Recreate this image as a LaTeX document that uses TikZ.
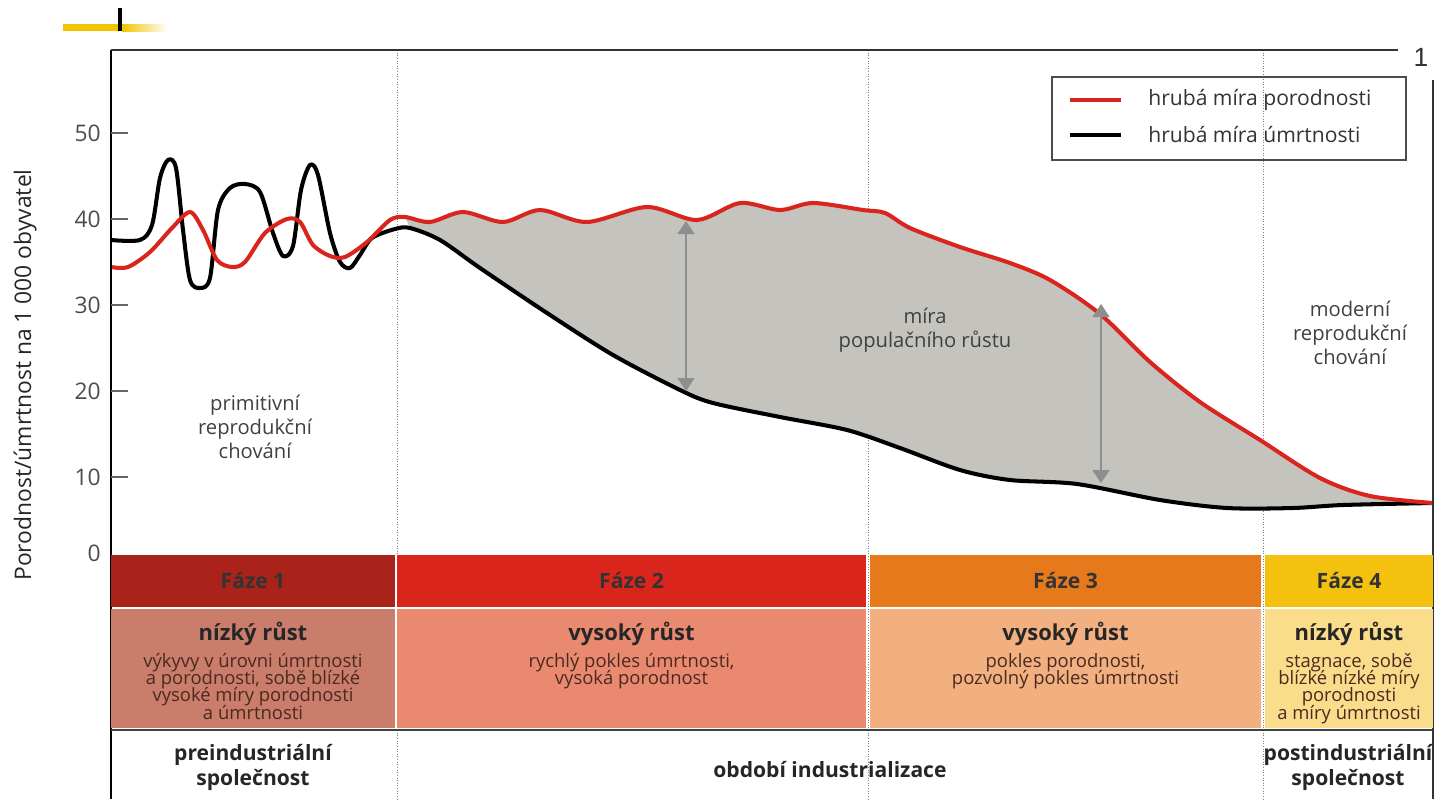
\documentclass[tikz,border=0pt]{standalone}
\usepackage{fontspec}
\setmainfont{Open Sans}
\newfontfamily\markfont{Liberation Sans}
\usepackage{xcolor}
\usetikzlibrary{arrows.meta, positioning, calc}

\definecolor{birthred}{HTML}{D9251D}
\definecolor{growthgray}{HTML}{C4C3BE}
\definecolor{arrowgray}{HTML}{8E8E8E}
\definecolor{headA}{HTML}{A9231A}
\definecolor{headB}{HTML}{DA251C}
\definecolor{headC}{HTML}{E5791C}
\definecolor{headD}{HTML}{F4C10F}
\definecolor{descA}{HTML}{C97D6A}
\definecolor{descB}{HTML}{E98A70}
\definecolor{descC}{HTML}{F2AF80}
\definecolor{descD}{HTML}{FADD8A}
\definecolor{bodytext}{HTML}{4A2A20}
\definecolor{baryellow}{HTML}{F2C300}

\newcommand\tightlines{\fontsize{10.5}{9.9}\selectfont\setlength{\lineskiplimit}{-20pt}}

\begin{document}
\begin{tikzpicture}[x=0.2mm, y=-0.2mm,
    phasehead/.style={minimum height=10.4mm, inner sep=0pt, font=\bfseries\fontsize{12}{14}\selectfont, text=black!80},
    descbox/.style={minimum height=23.8mm, inner sep=0pt},
    desctitle/.style={inner sep=0pt, font=\bfseries\fontsize{12.5}{14}\selectfont, text=black!85},
    descbody/.style={inner sep=0pt, align=center, font=\tightlines, text=bodytext},
    era/.style={align=center, font=\bfseries\fontsize{12}{14.2}\selectfont, text=black!85},
    note/.style={align=center, font=\fontsize{11.5}{13.6}\selectfont, text=black!75},
    ticklabel/.style={anchor=east, inner sep=0pt, font=\fontsize{13}{13}\selectfont, text=black!70},
    rate/.style={line width=2.3pt, line join=round},
    divider/.style={gray, densely dotted, line width=0.5pt},
    gap/.style={arrowgray, line width=0.9pt, {Triangle[width=3.4mm, length=2.6mm]}-{Triangle[width=3.4mm, length=2.6mm]}}
]
    \useasboundingbox (0,0) rectangle (1437,799);

    % top mark
    \fill[baryellow] (63,24) rectangle (122,31);
    \shade[left color=baryellow, right color=white] (122,24) rectangle (168,31);
    \fill[black] (118,8) rectangle (122,31);

    % phase dividers
    \foreach \x in {397,868,1263}
        \draw[divider] (\x,50) -- (\x,799);

    % growth area
    \fill[growthgray] plot[smooth, tension=0.5] coordinates {(405,217) (430,222) (463,212) (503,222) (540,210) (587,222) (647,207) (697,220) (740,203) (780,210) (813,203) (863,210) (885,213) (910,228) (960,247) (1010,263) (1050,280) (1100,314) (1150,362) (1200,402) (1260,440) (1320,478) (1370,496) (1433,503)}
        -- plot[smooth, tension=0.5] coordinates {(1433,503) (1343,505) (1293,508) (1227,508) (1160,500) (1077,484) (1010,480) (960,470) (900,448) (847,430) (780,417) (713,403) (680,390) (613,355) (547,313) (480,268) (440,240) (410,228)} -- cycle;

    % death rate
    \draw[rate, black] plot[smooth, tension=0.5] coordinates {(111,240) (140,240) (152,225) (160,178) (168,160) (176,168) (183,230) (190,280) (200,288) (210,278) (218,210) (230,188) (245,184) (260,192) (273,233) (283,256) (293,246) (301,190) (310,165) (318,175) (330,233) (340,262) (350,268) (360,255) (372,238) (395,229) (410,228) (440,240) (480,268) (547,313) (613,355) (680,390) (713,403) (780,417) (847,430) (900,448) (960,470) (1010,480) (1077,484) (1160,500) (1227,508) (1293,508) (1343,505) (1433,503)};
    % birth rate
    \draw[rate, birthred] plot[smooth, tension=0.5] coordinates {(111,267) (128,267) (150,252) (172,228) (190,212) (203,230) (217,260) (232,267) (245,262) (265,233) (287,219) (300,222) (313,245) (330,256) (345,257) (367,242) (390,220) (405,217) (430,222) (463,212) (503,222) (540,210) (587,222) (647,207) (697,220) (740,203) (780,210) (813,203) (863,210) (885,213) (910,228) (960,247) (1010,263) (1050,280) (1100,314) (1150,362) (1200,402) (1260,440) (1320,478) (1370,496) (1433,503)};

    % growth arrows
    \coordinate (birthB) at (686,221);
    \coordinate (deathB) at (686,391);
    \coordinate (birthC) at (1101,304);
    \coordinate (deathC) at (1101,483);
    \draw[gap] (birthB) -- (deathB);
    \draw[gap] (birthC) -- (deathC);

    % notes
    \node[note] (growth) at (925,330) {míra\\populačního růstu};
    \node[note] (modern) at (1350,333) {moderní\\reprodukční\\chování};
    \node[note] (primitive) at (255,427) {primitivní\\reprodukční\\chování};

    % axes
    \draw[black, line width=1.2pt] (111,50) -- (111,799);
    \draw[black!80, line width=1pt] (111,50) -- (1398,50);
    \draw[black!80, line width=1pt] (1433,80) -- (1433,799);
    \foreach \v in {1,...,5} {
        \draw[black!60, line width=0.8pt] (111,563-86*\v) -- (128,563-86*\v);
        \node[ticklabel] at (101,563-86*\v) {\v0};
    }
    \node[ticklabel] at (101,553) {0};
    \node[rotate=90, font=\fontsize{13}{13}\selectfont, text=black!85] (ylab) at (25,375) {Porodnost/úmrtnost na 1 000 obyvatel};
    \node[font=\markfont\fontsize{15}{15}\selectfont, text=black!80] (num) at (1421,57) {1};

    % legend
    \draw[black!70, line width=0.9pt] (1052,77) rectangle (1406,160);
    \draw[birthred, line width=2.3pt] (1070,100) -- (1121,100);
    \draw[black, line width=2.3pt] (1070,135) -- (1121,135);
    \node[anchor=west, inner sep=0pt, font=\fontsize{12}{12}\selectfont, text=black!80] (lbirth) at (1148,100) {hrubá míra porodnosti};
    \node[anchor=west, inner sep=0pt, font=\fontsize{12}{12}\selectfont, text=black!80] (ldeath) at (1148,135) {hrubá míra úmrtnosti};

    % phases
    \node[phasehead, fill=headA, minimum width=56.8mm] (f1) at (253,581) {Fáze 1};
    \node[phasehead, fill=headB, minimum width=93.8mm] (f2) at (631.5,581) {Fáze 2};
    \node[phasehead, fill=headC, minimum width=78.2mm] (f3) at (1065.5,581) {Fáze 3};
    \node[phasehead, fill=headD, minimum width=33.6mm] (f4) at (1349,581) {Fáze 4};
    \node[descbox, fill=descA, minimum width=56.8mm] (d1) at (253,668.5) {};
    \node[descbox, fill=descB, minimum width=93.8mm] (d2) at (631.5,668.5) {};
    \node[descbox, fill=descC, minimum width=78.2mm] (d3) at (1065.5,668.5) {};
    \node[descbox, fill=descD, minimum width=33.6mm] (d4) at (1349,668.5) {};

    \foreach \i/\t in {1/nízký růst, 2/vysoký růst, 3/vysoký růst, 4/nízký růst}
        \node[desctitle, anchor=base] (t\i) at ($(d\i.north)+(0,32)$) {\t};
    \node[descbody, below=2.4mm of t1.base] (b1) {výkyvy v úrovni úmrtnosti\\a porodnosti, sobě blízké\\vysoké míry porodnosti\\a úmrtnosti};
    \node[descbody, below=2.4mm of t2.base] (b2) {rychlý pokles úmrtnosti,\\vysoká porodnost};
    \node[descbody, below=2.4mm of t3.base] (b3) {pokles porodnosti,\\pozvolný pokles úmrtnosti};
    \node[descbody, below=2.4mm of t4.base] (b4) {stagnace, sobě\\blízké nízké míry\\porodnosti\\a míry úmrtnosti};

    \draw[black!75, line width=1pt] (111,730) -- (1433,730);

    % eras
    \node[era] (pre) at (253,767) {preindustriální\\společnost};
    \node[era] (ind) at (830,770) {období industrializace};
    \node[era] (post) at (1348,767) {postindustriální\\společnost};
\end{tikzpicture}
\end{document}
